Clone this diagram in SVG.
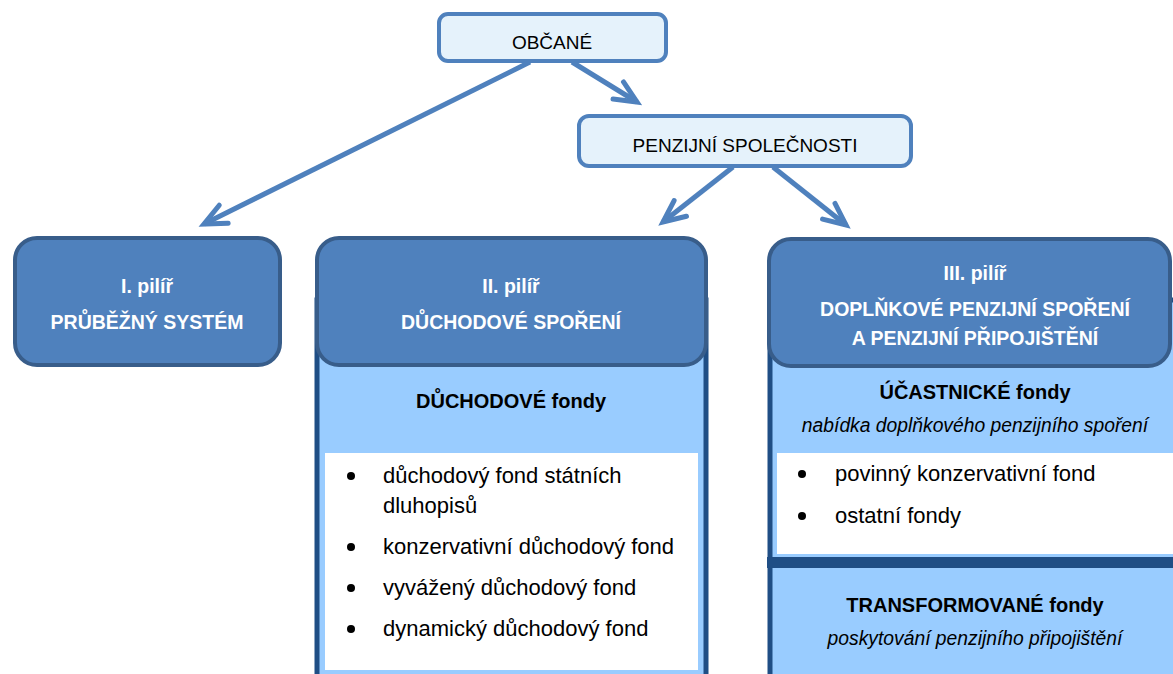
<svg xmlns="http://www.w3.org/2000/svg" width="1173" height="674" viewBox="0 0 1173 674">
<style>
  .top{fill:#E5F2FB;stroke:#4F81BD;stroke-width:4}
  .hdr{fill:#4F81BD;stroke:#385D8A;stroke-width:4}
  .body{fill:#99CCFF;stroke:#1F4E85;stroke-width:5}
  .white{fill:#FFFFFF}
  .conn{fill:none;stroke:#4F81BD;stroke-width:5}
  text{font-family:"Liberation Sans",Arial,sans-serif}
  .tt{font-size:19px;fill:#000;text-anchor:middle}
  .ht{font-size:19.5px;font-weight:bold;fill:#FFFFFF;text-anchor:middle}
  .bt{font-size:20px;font-weight:bold;fill:#000;text-anchor:middle}
  .it{font-size:19.3px;font-style:italic;fill:#000;text-anchor:middle}
  .li{font-size:22px;fill:#000}
  .dot{fill:#000}
</style>
<defs>
  <marker id="ah" markerUnits="userSpaceOnUse" markerWidth="40" markerHeight="40" refX="0" refY="0" viewBox="-30 -20 40 40" orient="auto" overflow="visible">
    <path d="M -22 -10 L 0 0 L -22 10" fill="none" stroke="#4F81BD" stroke-width="5" stroke-linecap="round" stroke-linejoin="miter"/>
  </marker>
</defs>
<g id="connectors">
  <path class="conn" d="M 530 62 L 204 224" marker-end="url(#ah)"/>
  <path class="conn" d="M 572 62 L 637 102" marker-end="url(#ah)"/>
  <path class="conn" d="M 733 167 L 663 222" marker-end="url(#ah)"/>
  <path class="conn" d="M 773 167 L 846 225" marker-end="url(#ah)"/>
</g>
<g id="obcane">
  <rect class="top" x="439" y="14" width="227" height="47" rx="9"/>
  <text class="tt" x="552" y="49">OBČANÉ</text>
</g>
<g id="penzijni-spolecnosti">
  <rect class="top" x="579" y="116" width="332" height="50" rx="10"/>
  <text class="tt" x="745" y="152">PENZIJNÍ SPOLEČNOSTI</text>
</g>
<g id="pilir1">
  <rect class="hdr" x="15" y="238" width="265" height="127" rx="22"/>
  <text class="ht" x="147" y="293">I. pilíř</text>
  <text class="ht" x="147" y="329">PRŮBĚŽNÝ SYSTÉM</text>
</g>
<g id="pilir2">
  <rect class="body" x="317" y="300" width="389" height="400"/>
  <rect class="hdr" x="317" y="238" width="389" height="127" rx="22"/>
  <text class="ht" x="511" y="293">II. pilíř</text>
  <text class="ht" x="511" y="329">DŮCHODOVÉ SPOŘENÍ</text>
  <text class="bt" x="511" y="408">DŮCHODOVÉ fondy</text>
  <rect class="white" x="325" y="453" width="373" height="217"/>
  <circle class="dot" cx="351" cy="476" r="4"/>
  <text class="li" x="383" y="483">důchodový fond státních</text>
  <text class="li" x="383" y="513">dluhopisů</text>
  <circle class="dot" cx="351" cy="547" r="4"/>
  <text class="li" x="383" y="554">konzervativní důchodový fond</text>
  <circle class="dot" cx="351" cy="588" r="4"/>
  <text class="li" x="383" y="595">vyvážený důchodový fond</text>
  <circle class="dot" cx="351" cy="629" r="4"/>
  <text class="li" x="383" y="636">dynamický důchodový fond</text>
</g>
<g id="pilir3">
  <rect class="body" x="770" y="300" width="420" height="400"/>
  <rect class="hdr" x="769" y="239" width="401" height="127" rx="22"/>
  <text class="ht" x="975" y="280">III. pilíř</text>
  <text class="ht" x="975" y="316">DOPLŇKOVÉ PENZIJNÍ SPOŘENÍ</text>
  <text class="ht" x="975" y="345">A PENZIJNÍ PŘIPOJIŠTĚNÍ</text>
  <text class="bt" x="975" y="399">ÚČASTNICKÉ fondy</text>
  <text class="it" x="975" y="432">nabídka doplňkového penzijního spoření</text>
  <rect class="white" x="777" y="453" width="400" height="101"/>
  <circle class="dot" cx="802" cy="474" r="4"/>
  <text class="li" x="835" y="481">povinný konzervativní fond</text>
  <circle class="dot" cx="802" cy="516" r="4"/>
  <text class="li" x="835" y="523">ostatní fondy</text>
  <line x1="767" y1="562.5" x2="1173" y2="562.5" stroke="#1F4E85" stroke-width="11"/>
  <text class="bt" x="975" y="612">TRANSFORMOVANÉ fondy</text>
  <text class="it" x="975" y="645">poskytování penzijního připojištění</text>
</g>
</svg>
